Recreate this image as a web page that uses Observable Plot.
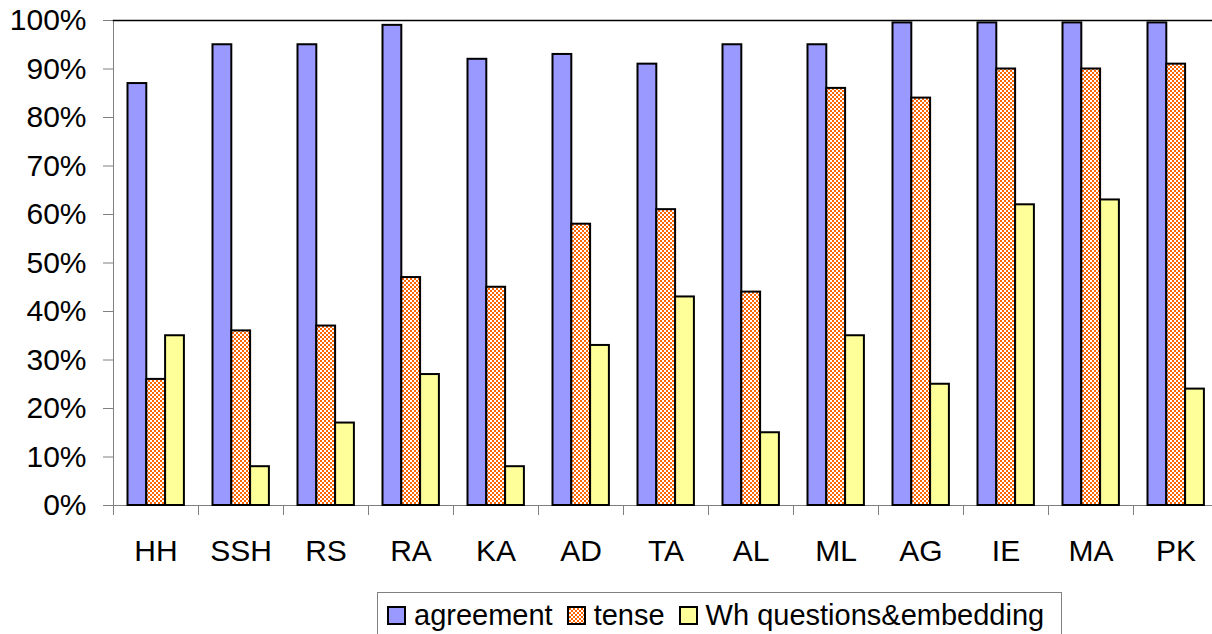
<!DOCTYPE html>
<html>
<head>
<meta charset="utf-8">
<script src="https://cdn.jsdelivr.net/npm/d3@7"></script>
<script src="https://cdn.jsdelivr.net/npm/@observablehq/plot@0.6"></script>
<style>
  html, body { margin: 0; padding: 0; background: #fff; overflow: hidden; }
  #wrap { position: relative; width: 1212px; height: 634px; font-family: "Liberation Sans", Arial, sans-serif; }
  #legend { position: absolute; left: 377px; top: 592px; width: 685px; height: 60px; border: 1px solid #808080; box-sizing: border-box; display: flex; align-items: flex-start; padding-left: 9px; padding-top: 6px; font-size: 29px; color: #000; white-space: nowrap; }
  #legend .item { display: flex; align-items: center; margin-right: 14px; }
  #legend svg { margin-right: 8px; }
</style>
</head>
<body>
<div id="wrap"></div>
<script>
const categories = ["HH","SSH","RS","RA","KA","AD","TA","AL","ML","AG","IE","MA","PK"];
const seriesNames = ["agreement","tense","Wh questions&embedding"];
const agreement = [87,95,95,99,92,93,91,95,95,99.5,99.5,99.5,99.5];
const tense = [26,36,37,47,45,58,61,44,86,84,90,90,91];
const whQuestions = [35,8,17,27,8,33,43,15,35,25,62,63,24];
const yTicks = [0,10,20,30,40,50,60,70,80,90,100];

const seriesValues = [agreement, tense, whQuestions];
const seriesFills = ["#9999FF", "url(#checker)", "#FFFF99"];
const bandW = 1105 / categories.length;
const barW = 18.8;
const groupLeft = 14.5;

const rows = seriesNames.map((s, si) => categories.map((c, i) => ({cat: c, series: s, value: seriesValues[si][i]})));

const barMarks = rows.map((data, si) => Plot.barY(data, {
  x: "cat", y: "value",
  fill: seriesFills[si], stroke: "#000", strokeWidth: 2,
  insetLeft: groupLeft + si * barW,
  insetRight: bandW - (groupLeft + (si + 1) * barW)
}));

const chart = Plot.plot({
  width: 1212, height: 590,
  marginLeft: 113, marginRight: 0, marginTop: 20, marginBottom: 85,
  style: {fontFamily: "'Liberation Sans', Arial, sans-serif", fontSize: "30px", background: "white", overflow: "visible", color: "#000"},
  x: {domain: categories, range: [113, 1218], padding: 0, label: null},
  y: {domain: [0, 100], label: null},
  marks: [
    Plot.frame({anchor: "left", stroke: "#808080"}),
    Plot.frame({anchor: "bottom", stroke: "#808080"}),
    Plot.axisY({ticks: yTicks, tickFormat: d => d + "%", tickSize: 10, tickPadding: 17, stroke: "#808080", fill: "#000", fontSize: 30, label: null}),
    Plot.axisX({tickSize: 0, tickPadding: 34, fontSize: 30, fill: "#000", label: null}),
    Plot.ruleX(categories, {x: d => d, y1: d => 0, y2: d => 0, insetBottom: -10, dx: -bandW / 2, stroke: "#808080"}),
    ...barMarks,
    Plot.frame({anchor: "top", stroke: "#000", strokeWidth: 1.5})
  ]
});

const svg = d3.select(chart);
const defs = svg.insert("defs", ":first-child");
const pat = defs.append("pattern").attr("id", "checker").attr("patternUnits", "userSpaceOnUse").attr("width", 4).attr("height", 4);
pat.append("rect").attr("width", 4).attr("height", 4).attr("fill", "#fff");
pat.append("rect").attr("width", 2).attr("height", 2).attr("fill", "#FF6600");
pat.append("rect").attr("x", 2).attr("y", 2).attr("width", 2).attr("height", 2).attr("fill", "#FF6600");

const wrap = document.getElementById("wrap");
wrap.appendChild(chart);

const legend = document.createElement("div");
legend.id = "legend";
seriesNames.forEach((name, si) => {
  const item = document.createElement("span");
  item.className = "item";
  const fill = si === 1 ? "url(#checkerL)" : seriesFills[si];
  item.innerHTML = `<svg width="19" height="19" viewBox="0 0 19 19">` +
    (si === 1 ? `<defs><pattern id="checkerL" patternUnits="userSpaceOnUse" width="4" height="4"><rect width="4" height="4" fill="#fff"/><rect width="2" height="2" fill="#FF6600"/><rect x="2" y="2" width="2" height="2" fill="#FF6600"/></pattern></defs>` : "") +
    `<rect x="1" y="1" width="17" height="17" fill="${fill}" stroke="#000" stroke-width="2"/></svg>`;
  const t = document.createElement("span");
  t.textContent = name;
  item.appendChild(t);
  legend.appendChild(item);
});
wrap.appendChild(legend);
</script>
</body>
</html>
